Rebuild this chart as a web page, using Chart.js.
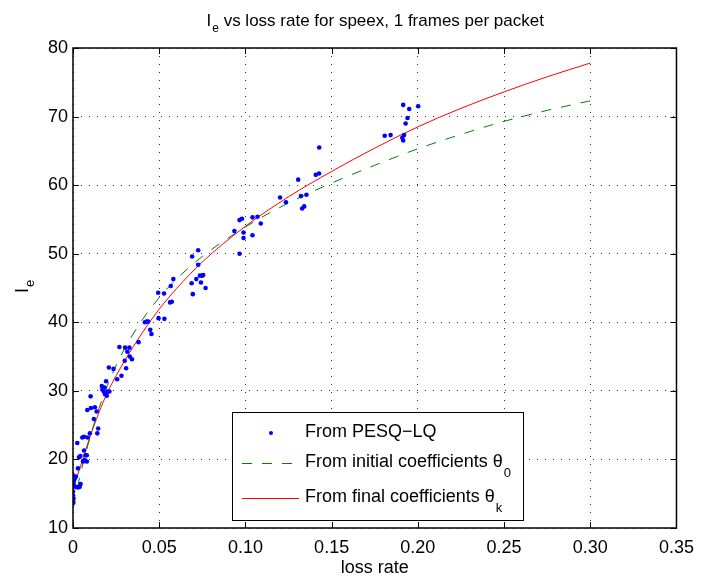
<!DOCTYPE html>
<html>
<head>
<meta charset="utf-8">
<script src="https://cdn.jsdelivr.net/npm/chart.js@4"></script>
<style>
html, body { margin: 0; padding: 0; background: #fff; }
</style>
</head>
<body>
<canvas id="myChart" width="703" height="577"></canvas>
<script>
// measured points (From PESQ-LQ)
const lossRate = [0.0000, 0.0002, 0.0000, 0.0002, 0.0001, 0.0000, 0.0004, 0.0016, 0.0028, 0.0039,
    0.0044, 0.0004, 0.0010, 0.0017, 0.0000, 0.0029, 0.0058, 0.0068, 0.0080, 0.0035,
    0.0043, 0.0073, 0.0080, 0.0064, 0.0025, 0.0054, 0.0064, 0.0085, 0.0098, 0.0141,
    0.0146, 0.0121, 0.0137, 0.0083, 0.0104, 0.0127, 0.0102, 0.0167, 0.0183, 0.0170,
    0.0178, 0.0186, 0.0196, 0.0200, 0.0211, 0.0192, 0.0208, 0.0235, 0.0256, 0.0281,
    0.0308, 0.0300, 0.0342, 0.0329, 0.0315, 0.0269, 0.0302, 0.0327, 0.0380, 0.0448,
    0.0455, 0.0417, 0.0427, 0.0436, 0.0496, 0.0530, 0.0563, 0.0573, 0.0494, 0.0528,
    0.0567, 0.0582, 0.0695, 0.0688, 0.0715, 0.0742, 0.0769, 0.0736, 0.0749, 0.0755,
    0.0726, 0.0691, 0.0726, 0.0966, 0.0936, 0.0989, 0.0989, 0.1041, 0.0966, 0.0980,
    0.1041, 0.1070, 0.1089, 0.1201, 0.1235, 0.1306, 0.1322, 0.1354, 0.1329, 0.1341,
    0.1408, 0.1427, 0.1428, 0.1808, 0.1842, 0.1920, 0.1910, 0.1915, 0.1929, 0.1940,
    0.1950, 0.1915, 0.2002];
const ieMeasured = [13.6, 13.8, 14.1, 14.3, 14.7, 15.3, 16.3, 16.0, 15.9, 16.0,
    16.4, 16.8, 17.2, 17.5, 17.7, 18.7, 19.7, 19.9, 19.7, 20.3,
    20.5, 20.6, 20.6, 21.3, 22.4, 23.2, 23.3, 23.2, 23.8, 23.8,
    24.5, 25.9, 27.0, 27.2, 27.5, 27.6, 29.2, 30.7, 30.5, 30.2,
    29.9, 29.5, 29.3, 29.9, 29.9, 31.4, 33.4, 33.2, 31.7, 32.2,
    33.3, 34.4, 34.6, 35.0, 35.7, 36.4, 36.3, 36.3, 37.1, 38.9,
    38.3, 40.0, 40.1, 40.1, 40.6, 40.5, 42.9, 43.0, 44.3, 44.2,
    45.3, 46.3, 44.1, 45.7, 46.3, 45.8, 45.0, 46.8, 46.8, 46.9,
    48.4, 49.6, 50.5, 50.0, 53.3, 53.1, 52.3, 52.7, 54.9, 55.1,
    55.3, 55.4, 54.4, 58.2, 57.5, 60.8, 58.4, 58.6, 56.6, 56.9,
    61.5, 61.7, 65.5, 67.2, 67.3, 67.3, 66.9, 66.5, 69.0, 69.8,
    71.1, 71.7, 71.5];

// fitted curves
const fitLoss   = [0, 0.005, 0.01, 0.015, 0.02, 0.025, 0.03, 0.04, 0.05, 0.06, 0.075, 0.1, 0.125, 0.15, 0.175, 0.2, 0.225, 0.25, 0.275, 0.3];
const ieInitial = [13.0, 18.6, 23.3, 27.4, 30.8, 33.7, 36.2, 40.3, 43.6, 46.3, 49.6, 53.9, 57.4, 60.3, 62.9, 65.3, 67.4, 69.3, 70.9, 72.3];
const ieFinal   = [15.8, 19.5, 23.4, 26.8, 29.8, 32.2, 34.4, 38.4, 41.9, 44.9, 48.8, 54.0, 58.3, 62.0, 65.4, 68.5, 71.2, 73.6, 75.8, 77.8];

const titleMain = 'I';
const titleSub = 'e';
const titleRest = ' vs loss rate for speex, 1 frames per packet';
const xLabel = 'loss rate';
const legendSubs = ['', '0', 'k'];

const FONT = "'Liberation Sans', Arial, sans-serif";

function pairs(xs, ys) {
    return xs.map((x, i) => ({x: x, y: ys[i]}));
}

const decorations = {
    id: 'decorations',
    afterDraw(chart) {
        const ctx = chart.ctx;
        const a = chart.chartArea;
        const xs = chart.scales.x;
        const ys = chart.scales.y;
        ctx.save();

        // inward tick marks on all four sides
        ctx.strokeStyle = '#000';
        ctx.lineWidth = 1;
        ctx.beginPath();
        xs.ticks.forEach(t => {
            const px = Math.round(xs.getPixelForValue(t.value)) + 0.5;
            ctx.moveTo(px, a.bottom); ctx.lineTo(px, a.bottom - 6);
            ctx.moveTo(px, a.top); ctx.lineTo(px, a.top + 6);
        });
        ys.ticks.forEach(t => {
            const py = Math.round(ys.getPixelForValue(t.value)) + 0.5;
            ctx.moveTo(a.left, py); ctx.lineTo(a.left + 6, py);
            ctx.moveTo(a.right, py); ctx.lineTo(a.right - 6, py);
        });
        ctx.stroke();

        // legend box
        const lx = 232, ly = 412, lw = 291, lh = 108;
        ctx.fillStyle = '#fff';
        ctx.fillRect(lx, ly, lw, lh);
        ctx.lineWidth = 1;
        ctx.strokeRect(lx + 0.5, ly + 0.5, lw, lh);
        const rows = [433, 463, 498];
        const ds = chart.data.datasets;
        ctx.font = '18px ' + FONT;
        ctx.textBaseline = 'middle';
        ctx.textAlign = 'left';
        ds.forEach((d, i) => {
            const y = rows[i];
            if (i === 0) {
                ctx.fillStyle = d.backgroundColor;
                ctx.beginPath();
                ctx.arc(271, y, 2, 0, Math.PI * 2);
                ctx.fill();
            } else {
                ctx.strokeStyle = d.borderColor;
                ctx.lineWidth = 1;
                ctx.setLineDash(d.borderDash || []);
                ctx.beginPath();
                ctx.moveTo(242, y + 0.5); ctx.lineTo(299, y + 0.5);
                ctx.stroke();
                ctx.setLineDash([]);
            }
            ctx.fillStyle = '#000';
            ctx.font = '18px ' + FONT;
            ctx.fillText(d.label, 305, y - 1);
            if (legendSubs[i]) {
                const w = ctx.measureText(d.label).width;
                ctx.font = '13px ' + FONT;
                ctx.fillText(legendSubs[i], 305 + w + 1, y + 10);
            }
        });

        // box
        ctx.strokeStyle = '#000';
        ctx.lineWidth = 1.5;
        ctx.strokeRect(a.left, a.top, a.right - a.left, a.bottom - a.top);

        // title with subscript
        ctx.fillStyle = '#000';
        ctx.textBaseline = 'alphabetic';
        ctx.font = '17px ' + FONT;
        const w1 = ctx.measureText(titleMain).width;
        const w3 = ctx.measureText(titleRest).width;
        ctx.font = '12px ' + FONT;
        const w2 = ctx.measureText(titleSub).width;
        const cx = (a.left + a.right) / 2;
        let tx = cx - (w1 + w2 + w3) / 2;
        ctx.font = '17px ' + FONT;
        ctx.fillText(titleMain, tx, 26);
        ctx.font = '12px ' + FONT;
        ctx.fillText(titleSub, tx + w1 + 1, 32);
        ctx.font = '17px ' + FONT;
        ctx.fillText(titleRest, tx + w1 + w2 + 1, 26);

        // x label
        ctx.textAlign = 'center';
        ctx.font = '18px ' + FONT;
        ctx.fillText(xLabel, cx, 573);

        // y label, rotated, with subscript
        ctx.translate(28, (a.top + a.bottom) / 2 + 5);
        ctx.rotate(-Math.PI / 2);
        ctx.textAlign = 'left';
        ctx.font = '18px ' + FONT;
        ctx.fillText('I', 0, 0);
        const wi = ctx.measureText('I').width;
        ctx.font = '13px ' + FONT;
        ctx.fillText('e', wi + 1, 6);

        ctx.restore();
    }
};

Chart.defaults.font.family = FONT;
Chart.defaults.font.size = 18;
Chart.defaults.color = '#000';

const ctx = document.getElementById('myChart').getContext('2d');
const chart = new Chart(ctx, {
    type: 'scatter',
    data: {
        datasets: [
            {
                label: 'From PESQ\u2212LQ',
                data: pairs(lossRate, ieMeasured),
                backgroundColor: '#0000ff',
                borderColor: '#0000ff',
                pointRadius: 2.3,
                pointBorderWidth: 0,
                showLine: false
            },
            {
                label: 'From initial coefficients \u03b8',
                data: pairs(fitLoss, ieInitial),
                type: 'line',
                borderColor: '#008000',
                borderWidth: 1,
                borderDash: [10, 10],
                pointRadius: 0,
                fill: false,
                cubicInterpolationMode: 'monotone'
            },
            {
                label: 'From final coefficients \u03b8',
                data: pairs(fitLoss, ieFinal),
                type: 'line',
                borderColor: '#ff0000',
                borderWidth: 1,
                pointRadius: 0,
                fill: false,
                cubicInterpolationMode: 'monotone'
            }
        ]
    },
    options: {
        responsive: false,
        animation: false,
        devicePixelRatio: 1,
        layout: { padding: { top: 48, right: 22, left: 0, bottom: 0 } },
        plugins: {
            legend: { display: false },
            title: { display: false },
            tooltip: { enabled: false }
        },
        scales: {
            x: {
                type: 'linear',
                min: 0,
                max: 0.35,
                ticks: { stepSize: 0.05, padding: 9, maxRotation: 0 },
                grid: { color: 'rgba(0,0,0,0.8)', drawTicks: false },
                border: { display: false, dash: [1, 7] },
                afterFit: s => { s.height = 49; }
            },
            y: {
                min: 10,
                max: 80,
                ticks: { stepSize: 10, padding: 5 },
                grid: { color: 'rgba(0,0,0,0.8)', drawTicks: false },
                border: { display: false, dash: [1, 7] },
                afterFit: s => { s.width = 73; }
            }
        }
    },
    plugins: [decorations]
});
</script>
</body>
</html>
